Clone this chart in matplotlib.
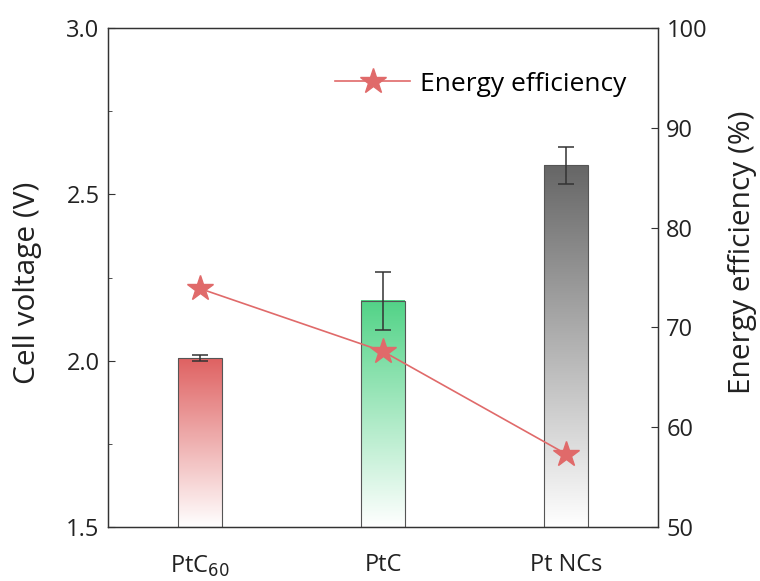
import numpy as np
import matplotlib
matplotlib.use("Agg")
import matplotlib.pyplot as plt
from matplotlib.colors import LinearSegmentedColormap
from matplotlib.ticker import MultipleLocator, FormatStrFormatter

plt.rcParams['font.family'] = ['Open Sans', 'DejaVu Sans']

categories = ["PtC$_{60}$", "PtC", "Pt NCs"]
voltage = [2.008, 2.180, 2.587]
voltage_err = [0.010, 0.087, 0.055]
efficiency = [73.9, 67.6, 57.3]
bar_colors = ["#df6262", "#52d387", "#666666"]

fig = plt.figure(figsize=(7.6, 5.81), dpi=100)
ax1 = fig.add_axes([108/760, 1-527/581, 550/760, 499/581])
ax2 = ax1.twinx()

x = np.arange(len(categories))
w = 0.24
ymin, ymax = 1.5, 3.0
grad = np.linspace(0, 1, 256).reshape(-1, 1)
for xi, v, c in zip(x, voltage, bar_colors):
    cmap = LinearSegmentedColormap.from_list("g", ["#ffffff", c])
    ax1.imshow(grad, extent=[xi - w/2, xi + w/2, ymin, v], origin='lower',
               cmap=cmap, aspect='auto', zorder=1, interpolation='bilinear')
    ax1.bar(xi, v - ymin, bottom=ymin, width=w, facecolor='none',
            edgecolor='#555555', linewidth=0.8, zorder=2)
ax1.errorbar(x, voltage, yerr=voltage_err, fmt='none', ecolor='#333333',
             elinewidth=1.1, capsize=6, capthick=1.1, zorder=3)

ax1.set_xlim(-0.5, 2.5)
ax1.set_ylim(ymin, ymax)
ax1.set_xticks(x)
ax1.set_xticklabels(categories, fontsize=17)
ax1.yaxis.set_major_locator(MultipleLocator(0.5))
ax1.yaxis.set_minor_locator(MultipleLocator(0.25))
ax1.yaxis.set_major_formatter(FormatStrFormatter('%.1f'))
ax1.tick_params(axis='y', which='both', direction='in', labelsize=17,
                colors='#333333', labelcolor='#222222', right=False, pad=6)
ax1.tick_params(axis='y', which='major', length=5)
ax1.tick_params(axis='y', which='minor', length=3)
ax1.tick_params(axis='x', length=0, pad=19, labelcolor='#222222')
ax1.set_ylabel("Cell voltage (V)", fontsize=21.5, color='#222222')
ax1.yaxis.set_label_coords(-0.12, 0.49)

ax2.plot(x, efficiency, color='#e06a6a', linewidth=1.2, marker='*',
         markersize=19, markerfacecolor='#e06a6a', markeredgecolor='#e06a6a',
         label='Energy efficiency', zorder=4)
ax2.set_ylim(50, 100)
ax2.yaxis.set_major_locator(MultipleLocator(10))
ax2.tick_params(axis='y', direction='in', length=5, labelsize=17,
                colors='#333333', labelcolor='#222222', pad=6)
ax2.set_ylabel("Energy efficiency (%)", fontsize=21.5, color='#222222')
ax2.yaxis.set_label_coords(1.127, 0.55)

for ax in (ax1, ax2):
    for s in ax.spines.values():
        s.set_color('#333333')
        s.set_linewidth(0.9)

leg = ax2.legend(loc='upper right', bbox_to_anchor=(0.985, 0.96), frameon=False,
                 fontsize=19, handlelength=2.85, handletextpad=0.35)

fig.savefig("out.png", dpi=100, facecolor='white')
